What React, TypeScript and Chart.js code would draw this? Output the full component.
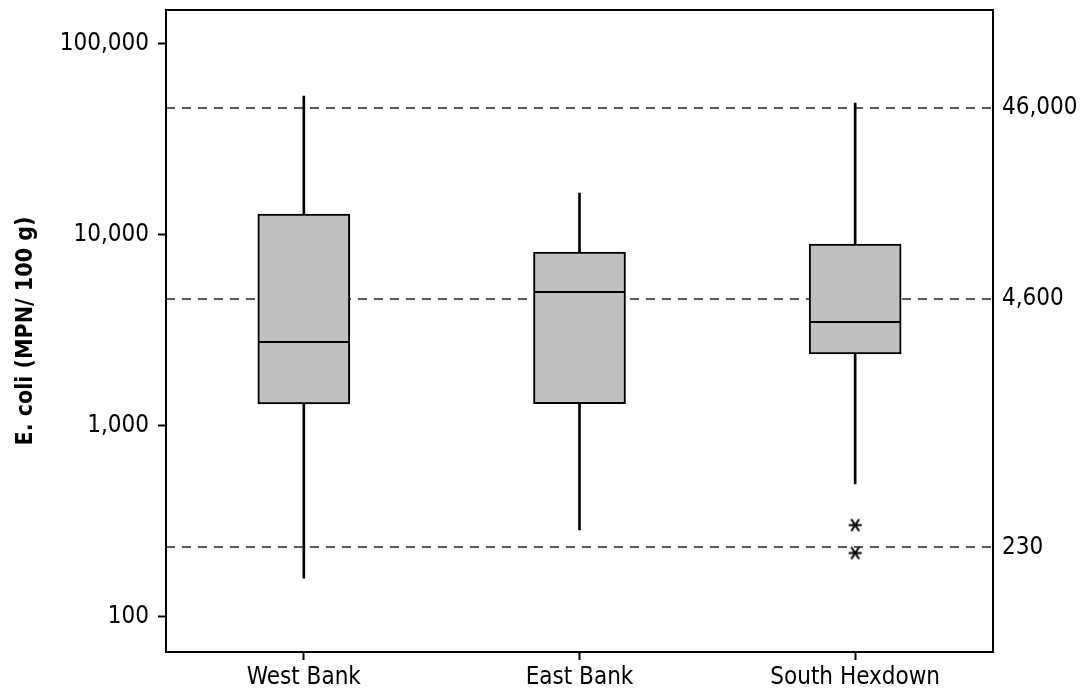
import React, { useEffect, useRef } from "react";
import { Chart, registerables } from "chart.js";

Chart.register(...registerables);

// ---- Data ----
const categories = ["West Bank", "East Bank", "South Hexdown"];
const whiskerLow = [159, 284, 494];
const q1 = [1296, 1300, 2368];
const medians = [2740, 5000, 3480];
const q3 = [12800, 8100, 8920];
const whiskerHigh = [53100, 16500, 48800];
const outlierCategory = ["South Hexdown", "South Hexdown"];
const outlierValues = [301, 215];
const referenceLines = [230, 4600, 46000];
const leftTicks = [100, 1000, 10000, 100000];
const yMin = 65.2;
const yMax = 149800;
const yTitle = "E. coli (MPN/ 100 g)";

const FONT = '"DejaVu Sans Condensed", "DejaVu Sans", sans-serif';

function fmt(v: number) {
  return Math.round(v).toLocaleString("en-US");
}

function makeAsterisk() {
  const c = document.createElement("canvas");
  c.width = 15;
  c.height = 15;
  const g = c.getContext("2d")!;
  g.strokeStyle = "#000";
  g.lineWidth = 2;
  g.lineCap = "butt";
  g.beginPath();
  g.moveTo(1, 7.5);
  g.lineTo(14, 7.5);
  g.moveTo(3.5, 1.5);
  g.lineTo(11.5, 13.5);
  g.moveTo(11.5, 1.5);
  g.lineTo(3.5, 13.5);
  g.stroke();
  return c;
}

const framePlugin = {
  id: "frameAndRefs",
  beforeDatasetsDraw(chart: any) {
    const { ctx, chartArea: a, scales } = chart;
    const y = scales.y;
    ctx.save();
    ctx.strokeStyle = "#5a5a5a";
    ctx.lineWidth = 2;
    ctx.setLineDash([9, 7]);
    referenceLines.forEach((v) => {
      const py = Math.round(y.getPixelForValue(v));
      ctx.beginPath();
      ctx.moveTo(a.left, py);
      ctx.lineTo(a.right, py);
      ctx.stroke();
    });
    ctx.restore();
  },
  afterDraw(chart: any) {
    const { ctx, chartArea: a } = chart;
    ctx.save();
    ctx.strokeStyle = "#000";
    ctx.lineWidth = 2;
    ctx.setLineDash([]);
    ctx.strokeRect(a.left, a.top, a.right - a.left, a.bottom - a.top);
    ctx.restore();
  },
};

const noPad = (s: any) => {
  s.paddingTop = 0;
  s.paddingBottom = 0;
  s.paddingLeft = 0;
  s.paddingRight = 0;
};

export default function App() {
  const ref = useRef<HTMLCanvasElement | null>(null);

  useEffect(() => {
    document.body.style.margin = "0";
    const canvas = ref.current!;
    const star = makeAsterisk();

    const chart = new Chart(canvas, {
      type: "bar",
      data: {
        labels: categories,
        datasets: [
          {
            type: "bar",
            label: "whiskers",
            data: categories.map((_, i) => [whiskerLow[i], whiskerHigh[i]]) as any,
            backgroundColor: "#000",
            borderWidth: 0,
            barThickness: 2,
            grouped: false,
            order: 3,
          } as any,
          {
            type: "bar",
            label: "box",
            data: categories.map((_, i) => [q1[i], q3[i]]) as any,
            backgroundColor: "#c0c0c0",
            borderColor: "#000",
            borderWidth: 2,
            borderSkipped: false,
            barThickness: 92,
            grouped: false,
            order: 2,
          } as any,
          {
            type: "line",
            label: "median",
            data: medians as any,
            showLine: false,
            pointStyle: "line",
            pointRadius: 45,
            pointHoverRadius: 45,
            borderColor: "#000",
            borderWidth: 2,
            clip: false,
            order: 1,
          } as any,
          {
            type: "line",
            label: "outliers",
            data: outlierCategory.map((c, i) => ({ x: c, y: outlierValues[i] })) as any,
            showLine: false,
            pointStyle: star as any,
            pointRadius: 7,
            clip: false,
            order: 0,
          } as any,
        ],
      },
      options: {
        animation: false,
        responsive: false,
        devicePixelRatio: 1,
        layout: { autoPadding: false, padding: { top: 10, left: 0, right: 0, bottom: 0 } },
        plugins: {
          legend: { display: false },
          tooltip: { enabled: false },
        },
        scales: {
          x: {
            type: "category",
            offset: true,
            grid: {
              offset: false,
              drawOnChartArea: false,
              drawTicks: true,
              tickLength: 8,
              tickColor: "#000",
              tickWidth: 2,
            },
            border: { display: false },
            ticks: {
              color: "#000",
              font: { family: FONT, size: 24 },
              padding: 3,
              maxRotation: 0,
            },
            afterFit: (s: any) => {
              s.height = 38;
              noPad(s);
            },
          },
          y: {
            type: "logarithmic",
            position: "left",
            min: yMin,
            max: yMax,
            afterBuildTicks: (s: any) => {
              s.ticks = leftTicks.map((v) => ({ value: v }));
            },
            grid: {
              drawOnChartArea: false,
              drawTicks: true,
              tickLength: 8,
              tickColor: "#000",
              tickWidth: 2,
            },
            border: { display: false },
            ticks: {
              color: "#000",
              font: { family: FONT, size: 24 },
              padding: 9,
              callback: (v: any) => fmt(Number(v)),
            },
            title: {
              display: true,
              text: yTitle,
              color: "#000",
              font: { family: FONT, size: 23, weight: "bold" },
              padding: { top: 12, bottom: 0 },
            },
            afterFit: (s: any) => {
              s.width = 166;
              noPad(s);
            },
          },
          y2: {
            type: "logarithmic",
            position: "right",
            min: yMin,
            max: yMax,
            afterBuildTicks: (s: any) => {
              s.ticks = referenceLines.map((v) => ({ value: v }));
            },
            grid: { drawOnChartArea: false, drawTicks: false },
            border: { display: false },
            ticks: {
              color: "#000",
              font: { family: FONT, size: 24 },
              padding: 9,
              callback: (v: any) => fmt(Number(v)),
            },
            afterFit: (s: any) => {
              s.width = 93;
              noPad(s);
            },
          },
        },
      } as any,
      plugins: [framePlugin],
    });

    return () => chart.destroy();
  }, []);

  return (
    <div style={{ width: 1086, height: 690, background: "#fff" }}>
      <canvas ref={ref} width={1086} height={690} style={{ display: "block", width: 1086, height: 690 }} />
    </div>
  );
}
